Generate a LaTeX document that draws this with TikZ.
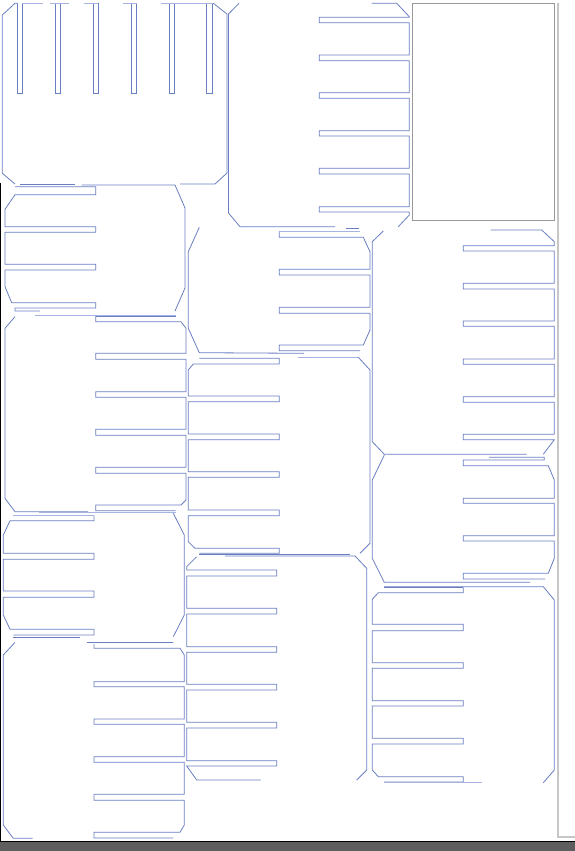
\documentclass[tikz,border=0pt]{standalone}
\definecolor{bl}{HTML}{6A7EC2}
\definecolor{bll}{HTML}{A7B3E0}
\definecolor{gbar}{HTML}{5E5E5E}
\tikzset{pl/.style={draw=bl,line width=0.8pt,line join=miter},
  plt/.style={draw=bll,line width=0.8pt},
  gr/.style={draw=black!40,line width=0.9pt}}
\begin{document}
\begin{tikzpicture}[x=1pt,y=-1pt]
\useasboundingbox (0,0) rectangle (575,851);
\fill[white] (0,0) rectangle (575,851);
% frame bits
\fill[gbar] (0,841) rectangle (575,851);
\draw[black,line width=0.8pt] (0,841) -- (575,841);
\draw[black,line width=0.8pt] (0.4,183) -- (0.4,841);
\draw[draw=black!22,line width=1.8pt] (557.7,3.3) -- (557.7,837) -- (575,837);
\draw[gr] (412.3,3.3) rectangle (554.3,220.7);

% Panel A (slots open at top)
\draw[pl] (15,184) -- (2.3,173.3) -- (2.3,15) -- (15,3.3) -- (17.3,3.3);
\draw[pl] (20,184) -- (75,184);
\draw[pl] (180,184) -- (215,184) -- (227,173) -- (227,14) -- (213.3,3.3);
\foreach \a/\b in {17.3/22.7,55/60.3,93.3/98.3,131/136.3,169/174,206.7/212}
  \draw[pl] (\a,3.3) -- (\a,93) -- (\b,93) -- (\b,3.3);
\draw[plt] (21.7,3.3) -- (42.7,3.3);
\draw[plt] (50,3.3) -- (69,3.3);
\draw[plt] (84,3.3) -- (98.3,3.3);
\draw[plt] (123.3,3.3) -- (136.7,3.3);
\draw[plt] (161,3.3) -- (213.3,3.3);

% Panel B (slots open at right)
\draw[pl] (239,3.3) -- (228.5,14) -- (228.5,213) -- (240,226.7) -- (335,226.7);
\draw[pl] (346,228.5) -- (358.5,228.5);
\draw[pl] (371.7,3.3) -- (396.7,3.3) -- (409.3,16.7)
  \foreach \a/\b in {17.3/22.7,55/60.7,92.7/98.3,130.7/136,168.3/174,206.7/212}
  { -- (409.3,\a) -- (319.3,\a) -- (319.3,\b) -- (409.3,\b) }
  -- (409.3,215) -- (398.3,226.7);

% Panel C (slots open at left)
\draw[pl] (15,186.7) -- (95.7,186.7) -- (95.7,194.7) -- (15,194.7) -- (5,209.3)
  \foreach \a/\b in {226.7/232.3,264.3/270}
  { -- (5,\a) -- (95.7,\a) -- (95.7,\b) -- (5,\b) }
  -- (5,286.7) -- (11.7,302.7) -- (95.7,302.7) -- (95.7,308) -- (15,308) -- (15,311) -- (40,311);
\draw[pl] (81.7,185) -- (175,185) -- (185,208) -- (185,288) -- (175,311);

% Panel E (slots open at right)
\draw[plt] (35,315) -- (175.7,315);
\draw[pl] (95.7,316) -- (175.7,316);
\draw[pl] (95.7,316) -- (95.7,321.7) -- (181,321.7) -- (186,328.3)
  \foreach \a/\b in {353.3/359.3,391.7/397.3,429.3/435.3,467.3/473.3}
  { -- (186,\a) -- (95.7,\a) -- (95.7,\b) -- (186,\b) }
  -- (186,500) -- (181,505) -- (95.7,505) -- (95.7,510.7) -- (175.7,510.7);
\draw[pl] (15,316.7) -- (5,328.3) -- (5,498.3) -- (15,511.7) -- (88,511.7);
\draw[plt] (39,512.7) -- (175.7,512.7);

% Panel F (slots open at left)
\draw[plt] (13.3,515.5) -- (94,515.5);
\draw[pl] (94,515.5) -- (94,520.7) -- (10,520.7) -- (3.3,535)
  \foreach \a/\b in {553.3/559.3,591/597.3}
  { -- (3.3,\a) -- (94,\a) -- (94,\b) -- (3.3,\b) }
  -- (3.3,615) -- (10,629.3) -- (94,629.3) -- (94,635) -- (13.3,635);
\draw[pl] (13.3,637.7) -- (80,637.7);
\draw[pl] (173.3,513.3) -- (184.3,535) -- (184.3,615) -- (173.3,636.7);

% Panel G (slots open at right)
\draw[pl,line width=1.1pt] (87.3,642.3) -- (173.3,642.3);
\draw[pl] (94,644) -- (94,648.3) -- (180,648.3) -- (184.3,655)
  \foreach \a/\b in {681.7/686.7,719/724.3,756.7/762.3,794.3/800.3}
  { -- (184.3,\a) -- (94,\a) -- (94,\b) -- (184.3,\b) }
  -- (184.3,825) -- (180,832.3) -- (94,832.3) -- (94,838) -- (173.3,838);
\draw[pl] (15,642.3) -- (3.3,655) -- (3.3,825) -- (13.3,838.3) -- (32.7,838.3);

% Panel H (slots open at right)
\draw[plt] (279.3,231.7) -- (360,231.7);
\draw[pl] (279.3,231.7) -- (279.3,237.3) -- (363.3,237.3) -- (370,251.7)
  \foreach \a/\b in {269.3/275,307.3/313.3}
  { -- (370,\a) -- (279.3,\a) -- (279.3,\b) -- (370,\b) }
  -- (370,330) -- (363.3,345) -- (279.3,345) -- (279.3,350.7) -- (360,350.7);
\draw[pl] (199.3,227.3) -- (188.3,251.7) -- (188.3,328.3) -- (199.3,352.7) -- (304,353.3);

% Panel I (slots open at left)
\draw[pl] (199.3,358.3) -- (279.3,358.3) -- (279.3,364) -- (193.3,364) -- (188.3,370)
  \foreach \a/\b in {396/401.7,434/439.7,471.7/477.3,510/515.7}
  { -- (188.3,\a) -- (279.3,\a) -- (279.3,\b) -- (188.3,\b) }
  -- (188.3,541.7) -- (195,548.3) -- (279.3,548.3) -- (279.3,553.3) -- (199.3,553.3);
\draw[plt] (298.3,357.3) -- (358.3,357.3);
\draw[pl] (358.3,357.3) -- (370,370) -- (370,543.3) -- (360,553.3);
\draw[pl] (199.3,554.3) -- (350,554.3);

% Panel J (slots open at left)
\draw[pl] (225,556) -- (355,556) -- (366.7,568.3) -- (366.7,770) -- (356.7,780);
\draw[pl] (196.7,556.7) -- (186.7,566.7) -- (186.7,570) -- (276.7,570) -- (276.7,576) -- (186.7,576)
  \foreach \a/\b in {608.3/614,646.7/652.3,684.3/690,722.3/728,760.7/766}
  { -- (186.7,\a) -- (276.7,\a) -- (276.7,\b) -- (186.7,\b) }
  -- (196.7,780) -- (260.7,780);

% Panel D (slots open at right)
\draw[pl] (490.7,230) -- (541.7,230) -- (554.3,241.7)
  \foreach \a/\b in {245.7/251,283.3/289,321/326.3,359/364.3,396.7/402.3,434.3/439.7}
  { -- (554.3,\a) -- (463.3,\a) -- (463.3,\b) -- (554.3,\b) }
  -- (543.3,454.3);
\draw[pl] (383.3,231) -- (372.3,241.7) -- (372.3,441.7) -- (384.3,454.3) -- (526.7,454.3);

% Panel K (slots open at right)
\draw[pl] (489,457.3) -- (544.3,457.3) -- (544.3,460) -- (463.3,460) -- (463.3,465.7) -- (548.3,465.7) -- (554.3,480)
  \foreach \a/\b in {498.3/503.3,535.7/541}
  { -- (554.3,\a) -- (463.3,\a) -- (463.3,\b) -- (554.3,\b) }
  -- (554.3,558.3) -- (548.3,573.3) -- (463.3,573.3) -- (463.3,579) -- (545,579);
\draw[pl] (384.3,455) -- (372.3,480) -- (372.3,558.3) -- (384.3,582.3) -- (530,582.3);

% Panel L (slots open at left)
\draw[pl] (384,586.7) -- (543.3,586.7) -- (554.3,600) -- (554.3,770) -- (543.3,782.7);
\draw[pl,line width=1.1pt] (384,587.3) -- (463.3,587.3);
\draw[pl] (463.3,587.3) -- (463.3,592.7) -- (378.3,592.7) -- (372.3,599.3)
  \foreach \a/\b in {624.3/630.7,662.7/668.3,700.7/706,738.3/744}
  { -- (372.3,\a) -- (463.3,\a) -- (463.3,\b) -- (372.3,\b) }
  -- (372.3,770) -- (378.3,776.7) -- (463.3,776.7) -- (463.3,782) -- (384,782);
\draw[plt] (384,782.7) -- (481.7,782.7);
\end{tikzpicture}
\end{document}
